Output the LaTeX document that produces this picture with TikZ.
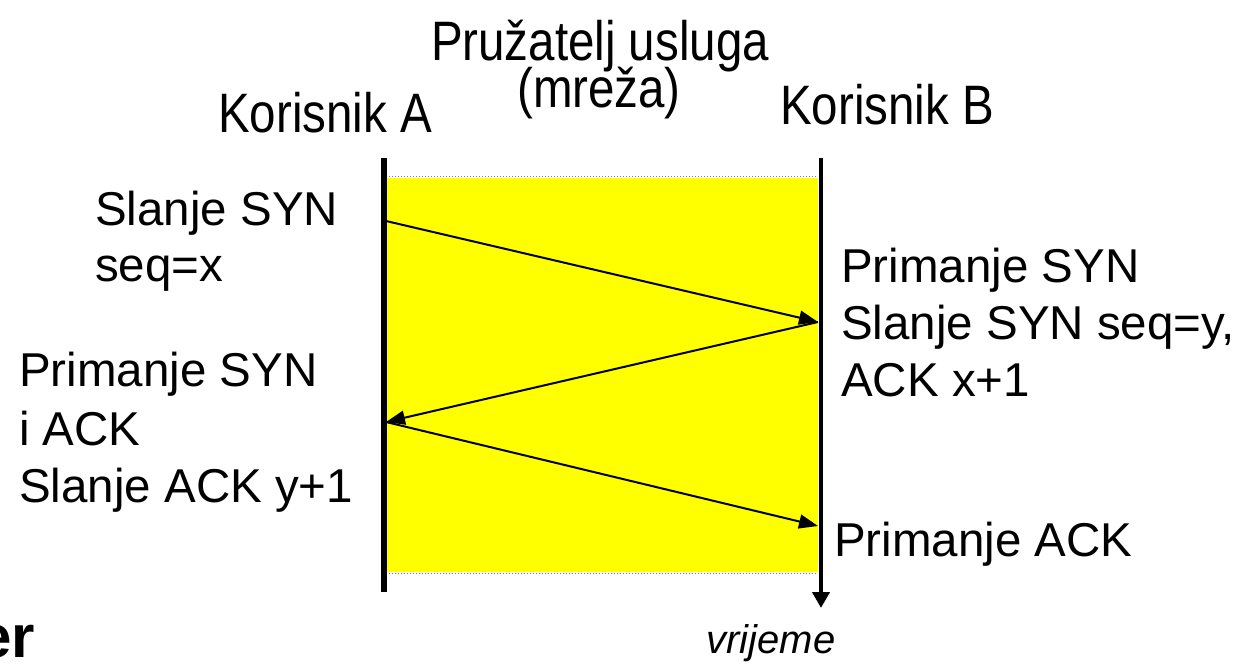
\documentclass[tikz,border=0pt]{standalone}
\usepackage{fontspec}
\usepackage{graphicx}
\setmainfont{Liberation Sans}
\usetikzlibrary{arrows.meta}
\definecolor{netyellow}{RGB}{255,255,0}
\newcommand{\tallhead}[1]{\scalebox{1}[1.17]{#1}}
\begin{document}
\begin{tikzpicture}[x=1pt,y=-1pt,
  txt/.style={font=\fontsize{47.5}{57}\selectfont, inner sep=0pt, anchor=base west},
  ctxt/.style={txt, anchor=base},
  head/.style={txt, font=\fontsize{47.5}{57}\selectfont},
  life/.style={line width=5.5pt},
  msg/.style={line width=2pt, -{Triangle[length=19pt,width=14pt]}},
  guide/.style={gray, dotted, line width=1pt}]
\useasboundingbox (0,0) rectangle (1243,668);
% network area
\fill[netyellow] (386,178) rectangle (818,572);
\coordinate (gtl) at (386,177);
\coordinate (gtr) at (818,177);
\coordinate (gbl) at (386,573);
\coordinate (gbr) at (818,573);
\draw[guide] (gtl) -- (gtr);
\draw[guide] (gbl) -- (gbr);
% lifelines
\coordinate (Atop) at (384,158);
\coordinate (Abot) at (384,592);
\coordinate (Btop) at (821,158);
\coordinate (Bbot) at (821,608);
\draw[life] (Atop) -- (Abot);
\draw[line width=4.5pt, -{Triangle[length=16pt,width=17pt]}] (Btop) -- (Bbot);
% message points
\coordinate (A1) at (386,221);
\coordinate (B1) at (818,322);
\coordinate (A2) at (386,422);
\coordinate (B2) at (818,526);
\draw[msg] (A1) -- (B1);
\draw[msg] (B1) -- (A2);
\draw[msg] (A2) -- (B2);
% headers
\node[head, anchor=base] (prov1) at (600,61) {\tallhead{Pružatelj usluga}};
\node[head, anchor=base] (prov2) at (599,108) {\tallhead{(mreža)}};
\node[head] (ua) at (218,133) {\tallhead{Korisnik A}};
\node[head] (ub) at (780,125) {\tallhead{Korisnik B}};
% left labels
\node[txt] (l1) at (95,226) {Slanje SYN};
\node[txt] (l2) at (95,282) {seq=x};
\node[txt] (l3) at (19,387) {Primanje SYN};
\node[txt] (l4) at (19,445) {i ACK};
\node[txt] (l5) at (19,502) {Slanje ACK y+1};
% right labels
\node[txt] (r1) at (841,283) {Primanje SYN};
\node[txt] (r2) at (841,340) {Slanje SYN seq=y,};
\node[txt] (r3) at (841,397) {ACK x+1};
\node[txt] (r4) at (834,556) {Primanje ACK};
% time
\node[ctxt, font=\fontsize{40}{48}\selectfont\itshape] (time) at (771,653) {vrijeme};
% clipped heading fragment
\node[txt, anchor=base east, font=\fontsize{60}{70}\selectfont\bfseries] (frag) at (35,657) {er};
\end{tikzpicture}
\end{document}
